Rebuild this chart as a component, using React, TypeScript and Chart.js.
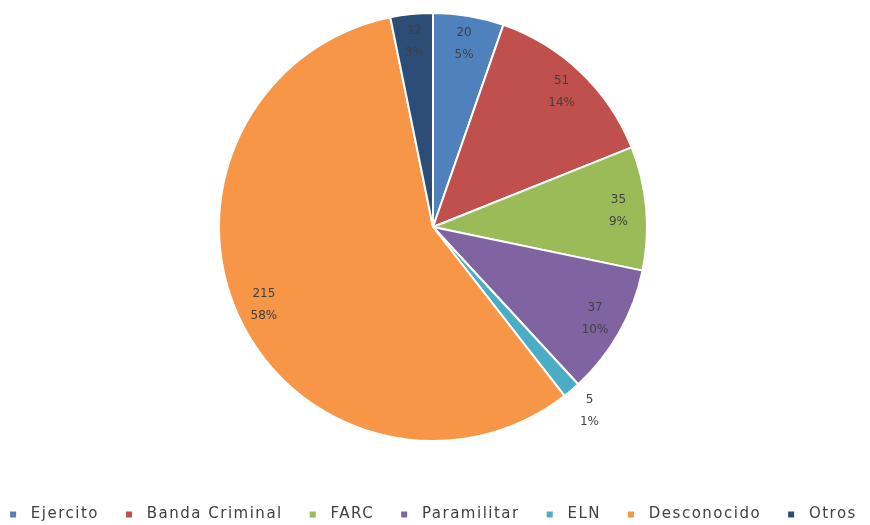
import React, { useEffect, useRef } from "react";
import { Chart, registerables } from "chart.js";

Chart.register(...registerables);

const categories = ["Ejercito", "Banda Criminal", "FARC", "Paramilitar", "ELN", "Desconocido", "Otros"];
const values = [20, 51, 35, 37, 5, 215, 12];
const percentLabels = ["5%", "14%", "9%", "10%", "1%", "58%", "3%"];
const colors = ["#4F81BD", "#C0504D", "#9BBB59", "#8064A2", "#4BACC6", "#F79646", "#2C4D75"];

const spacingPlugin = {
  id: "legendSpacing",
  beforeUpdate(chart: any) {
    chart.ctx.letterSpacing = "1.5px";
  },
  beforeDraw(chart: any) {
    chart.ctx.letterSpacing = "1.5px";
  },
};

const labelPlugin = {
  id: "sliceLabels",
  afterDatasetsDraw(chart: any) {
    const ctx = chart.ctx;
    const meta = chart.getDatasetMeta(0);
    const total = values.reduce((a, b) => a + b, 0);
    ctx.save();
    ctx.letterSpacing = "0px";
    ctx.font = "12px 'DejaVu Sans'";
    ctx.fillStyle = "#404040";
    ctx.textAlign = "center";
    ctx.textBaseline = "middle";
    meta.data.forEach((arc: any, i: number) => {
      const { x, y, startAngle, endAngle, outerRadius } = arc.getProps(
        ["x", "y", "startAngle", "endAngle", "outerRadius"],
        true
      );
      const mid = (startAngle + endAngle) / 2;
      const frac = values[i] / total;
      const r = frac < 0.02 ? outerRadius * 1.13 : outerRadius * 0.87;
      const lx = x + Math.cos(mid) * r;
      const ly = y + Math.sin(mid) * r;
      ctx.fillText(String(values[i]), lx, ly - 11);
      ctx.fillText(percentLabels[i], lx, ly + 11);
    });
    ctx.restore();
  },
};

export default function App() {
  const ref = useRef<HTMLCanvasElement>(null);
  useEffect(() => {
    if (!ref.current) return;
    const chart = new Chart(ref.current, {
      type: "pie",
      data: {
        labels: categories,
        datasets: [
          {
            data: values,
            backgroundColor: colors,
            borderColor: "#FFFFFF",
            borderWidth: 2,
          },
        ],
      },
      options: {
        responsive: false,
        animation: false,
        layout: { padding: { top: 12, bottom: 0, left: 0, right: 12 } },
        plugins: {
          tooltip: { enabled: false },
          legend: {
            position: "bottom",
            title: { display: true, text: "", font: { size: 10 }, padding: { top: 27, bottom: 0 } },
            labels: {
              boxWidth: 8,
              boxHeight: 8,
              padding: 26,
              color: "#404040",
              font: { family: "'DejaVu Sans'", size: 15 },
              generateLabels: (c: any) =>
                (Chart as any).overrides.pie.plugins.legend.labels
                  .generateLabels(c)
                  .map((l: any) => ({ ...l, text: " " + l.text })),
            },
          },
        },
      },
      plugins: [spacingPlugin, labelPlugin],
    });
    return () => chart.destroy();
  }, []);
  return (
    <div style={{ position: "fixed", left: 0, top: 0, width: 870, height: 525, overflow: "hidden", background: "#fff" }}>
      <canvas
        ref={ref}
        width={920}
        height={532}
        style={{ display: "block", position: "absolute", left: -21, top: 0 }}
      />
    </div>
  );
}
